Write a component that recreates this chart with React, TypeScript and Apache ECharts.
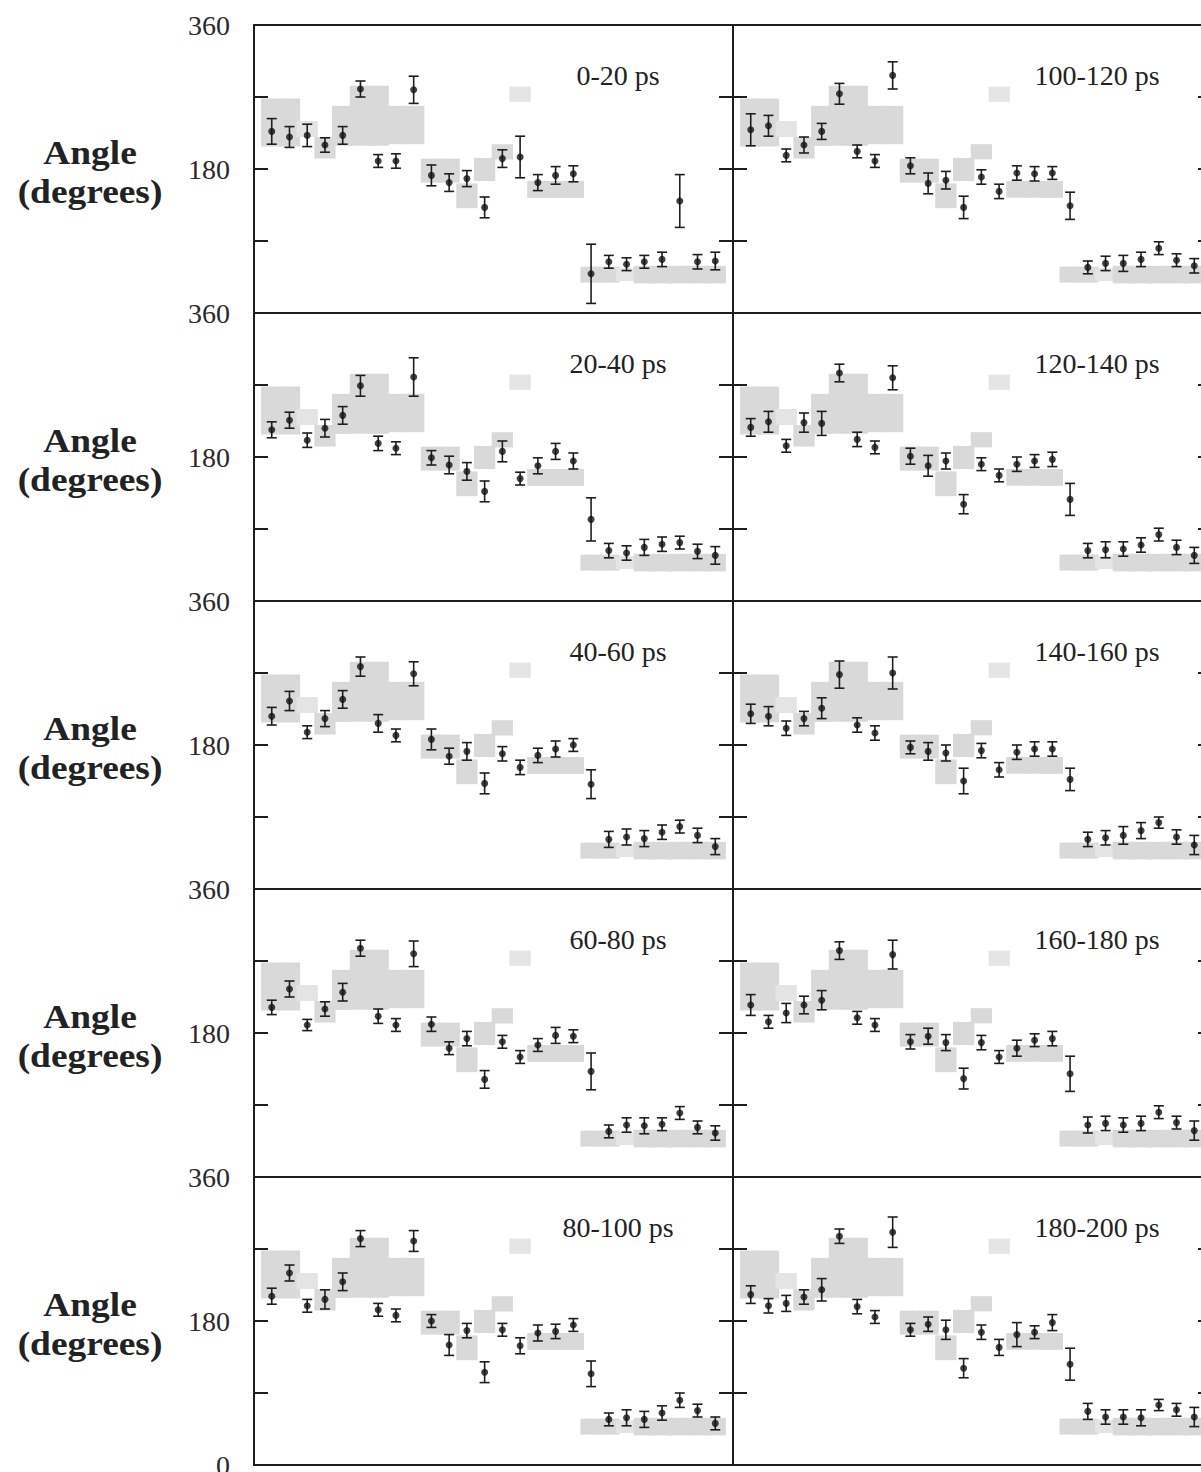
import React, { useEffect, useRef } from 'react';
import * as echarts from 'echarts';

// residue positions along each panel
const residues = [1, 2, 3, 4, 5, 6, 7, 8, 9, 10, 11, 12, 13, 14, 15, 16, 17, 18, 19, 20, 21, 22, 23, 24, 25, 26];

// time windows
const leftLabels = ['0-20 ps', '20-40 ps', '40-60 ps', '60-80 ps', '80-100 ps'];
const rightLabels = ['100-120 ps', '120-140 ps', '140-160 ps', '160-180 ps', '180-200 ps'];

// mean angles (degrees)
const v0_20 = [227, 220, 222, 210, 222, 280, 190, 190, 279, 172, 163, 168, 132, 193, 195, 163, 172, 174, 49, 64, 61, 64, 67, 140, 64, 65];
const e0_20 = [16, 13, 14, 9, 11, 10, 8, 9, 17, 13, 11, 10, 13, 11, 26, 10, 11, 10, 37, 8, 8, 8, 9, 33, 9, 11];
const v20_40 = [214, 226, 201, 216, 232, 269, 197, 191, 280, 179, 170, 162, 137, 187, 153, 169, 187, 175, 102, 63, 60, 67, 71, 73, 62, 57];
const e20_40 = [10, 10, 9, 11, 11, 13, 9, 8, 24, 9, 11, 11, 13, 13, 8, 10, 10, 10, 27, 9, 9, 10, 9, 8, 9, 11];
const v40_60 = [216, 235, 196, 213, 237, 278, 207, 192, 269, 187, 166, 172, 132, 169, 152, 167, 175, 180, 131, 62, 65, 63, 71, 78, 67, 53];
const e40_60 = [11, 12, 8, 10, 11, 12, 11, 8, 15, 13, 10, 11, 13, 9, 9, 9, 10, 8, 18, 10, 10, 10, 9, 8, 9, 10];
const v60_80 = [212, 235, 190, 210, 231, 286, 201, 190, 279, 191, 161, 173, 122, 169, 150, 165, 177, 176, 132, 57, 65, 64, 66, 80, 62, 55];
const e60_80 = [9, 10, 7, 9, 11, 10, 9, 8, 16, 9, 8, 9, 11, 8, 8, 8, 10, 8, 23, 8, 9, 10, 8, 8, 8, 9];
const v80_100 = [211, 240, 199, 207, 229, 283, 194, 187, 280, 180, 150, 168, 116, 169, 149, 165, 167, 175, 114, 57, 59, 57, 65, 81, 68, 52];
const e80_100 = [10, 10, 8, 12, 11, 10, 8, 8, 13, 8, 13, 9, 13, 8, 10, 10, 9, 8, 16, 8, 10, 10, 9, 9, 8, 8];
const v100_120 = [229, 234, 197, 210, 227, 274, 202, 190, 297, 184, 162, 166, 132, 170, 152, 175, 174, 175, 134, 57, 62, 62, 67, 81, 66, 59];
const e100_120 = [20, 13, 8, 10, 10, 13, 8, 8, 17, 10, 13, 11, 14, 9, 9, 9, 9, 8, 17, 8, 9, 10, 9, 8, 8, 9];
const v120_140 = [217, 224, 194, 223, 222, 285, 202, 192, 279, 181, 169, 175, 121, 171, 157, 171, 175, 177, 127, 63, 64, 65, 70, 83, 67, 57];
const e120_140 = [11, 13, 8, 12, 15, 11, 9, 8, 15, 10, 13, 10, 12, 8, 8, 9, 8, 9, 20, 9, 10, 9, 9, 8, 9, 10];
const v140_160 = [219, 216, 201, 213, 226, 268, 205, 195, 270, 177, 172, 170, 135, 173, 149, 171, 175, 175, 137, 62, 64, 67, 73, 83, 65, 55];
const e140_160 = [12, 12, 9, 9, 13, 17, 9, 9, 20, 8, 11, 10, 16, 9, 9, 9, 9, 9, 14, 9, 9, 11, 10, 7, 9, 12];
const v160_180 = [215, 194, 205, 215, 221, 283, 199, 190, 278, 169, 176, 168, 123, 168, 150, 161, 171, 173, 129, 65, 67, 65, 67, 81, 68, 58];
const e160_180 = [13, 8, 12, 11, 12, 11, 8, 8, 18, 9, 10, 10, 13, 9, 8, 10, 8, 9, 22, 10, 9, 9, 9, 8, 8, 12];
const v180_200 = [213, 199, 202, 210, 219, 286, 198, 185, 291, 169, 176, 169, 121, 166, 147, 163, 166, 178, 126, 67, 60, 60, 59, 75, 69, 60];
const e180_200 = [11, 9, 10, 9, 14, 9, 9, 8, 19, 8, 9, 12, 12, 9, 10, 15, 8, 10, 20, 10, 9, 9, 10, 7, 8, 12];

// reference ranges (gray boxes), same in every panel
const boxLow = [208, 208, 220, 193, 209, 209, 209, 211, 211, 163, 163, 131, 165, 192, 264, 144, 144, 144, 38, 38, 40, 37, 37, 37, 37, 37];
const boxHigh = [268, 268, 240, 220, 259, 284, 284, 259, 259, 193, 193, 162, 194, 211, 283, 165, 165, 165, 58, 58, 56, 59, 59, 59, 59, 59];
const boxLight = [0, 0, 1, 0, 0, 0, 0, 0, 0, 0, 0, 0, 0, 0, 1, 0, 0, 0, 0, 0, 1, 0, 0, 0, 0, 0];

const yTicks = [0, 90, 180, 270, 360];
const yLabelled = [360, 180];

const leftValues = [v0_20, v20_40, v40_60, v60_80, v80_100];
const leftErrors = [e0_20, e20_40, e40_60, e60_80, e80_100];
const rightValues = [v100_120, v120_140, v140_160, v160_180, v180_200];
const rightErrors = [e100_120, e120_140, e140_160, e160_180, e180_200];

const FONT = '"Liberation Serif", "Times New Roman", serif';
const INK = '#1e1e1e';

export default function App() {
  const ref = useRef<HTMLDivElement>(null);

  useEffect(() => {
    if (!ref.current) return;
    const chart = echarts.init(ref.current, undefined, { renderer: 'svg' });

    const grids: any[] = [];
    const xAxes: any[] = [];
    const yAxes: any[] = [];
    const series: any[] = [];
    const graphics: any[] = [];

    const PANEL_W = 479;
    const PANEL_H = 288;
    const TOP0 = 25;
    const LEFTS = [254, 733];

    for (let r = 0; r < 5; r++) {
      for (let c = 0; c < 2; c++) {
        const gi = r * 2 + c;
        const top = TOP0 + r * PANEL_H;
        const left = LEFTS[c];
        grids.push({
          left, top, width: PANEL_W, height: PANEL_H,
          show: true, borderColor: INK, borderWidth: 2, backgroundColor: 'transparent',
          containLabel: false, outerBoundsMode: 'none',
        });
        xAxes.push({
          type: 'value', gridIndex: gi, min: 0, max: 27,
          axisLine: { show: false }, axisTick: { show: false }, axisLabel: { show: false }, splitLine: { show: false },
        });
        const isLast = r === 4;
        yAxes.push({
          type: 'value', gridIndex: gi, min: 0, max: 360, interval: 90, position: 'left',
          axisLine: { show: false },
          axisTick: { show: true, inside: true, length: 14, lineStyle: { color: INK, width: 2 } },
          splitLine: { show: false },
          axisLabel: {
            show: c === 0, margin: 24, fontFamily: FONT, fontSize: 28, color: '#2a2a2a',
            formatter: (v: number) => (yLabelled.includes(v) ? String(v) : (isLast && v === yTicks[0] ? '0' : '')),
          },
        });
        yAxes.push({
          type: 'value', gridIndex: gi, min: 0, max: 360, interval: 90, position: 'right',
          axisLine: { show: false },
          axisTick: { show: true, inside: true, length: 14, lineStyle: { color: INK, width: 2 } },
          splitLine: { show: false }, axisLabel: { show: false },
        });
        const yi = gi * 2;
        const vals = c === 0 ? leftValues[r] : rightValues[r];
        const errs = c === 0 ? leftErrors[r] : rightErrors[r];

        series.push({
          type: 'custom', xAxisIndex: gi, yAxisIndex: yi, clip: true, z: 1, silent: true,
          data: residues.map((x, i) => [x, boxLow[i], boxHigh[i], boxLight[i]]),
          renderItem: (params: any, api: any) => {
            const x = api.value(0);
            const p1 = api.coord([x - 0.6, api.value(2)]);
            const p2 = api.coord([x + 0.6, api.value(1)]);
            return {
              type: 'rect',
              shape: { x: p1[0], y: p1[1], width: p2[0] - p1[0], height: p2[1] - p1[1] },
              style: { fill: api.value(3) ? '#e4e4e4' : '#d9d9d9' },
            };
          },
        });
        series.push({
          type: 'custom', xAxisIndex: gi, yAxisIndex: yi, clip: false, z: 3, silent: true,
          data: residues.map((x, i) => [x, vals[i], errs[i]]),
          renderItem: (params: any, api: any) => {
            const x = api.value(0), v = api.value(1), e = api.value(2);
            const t = api.coord([x, v + e]);
            const b = api.coord([x, v - e]);
            const hw = 5;
            const st = { stroke: INK, lineWidth: 1.6 };
            return {
              type: 'group',
              children: [
                { type: 'line', shape: { x1: t[0], y1: t[1], x2: b[0], y2: b[1] }, style: st },
                { type: 'line', shape: { x1: t[0] - hw, y1: t[1], x2: t[0] + hw, y2: t[1] }, style: st },
                { type: 'line', shape: { x1: b[0] - hw, y1: b[1], x2: b[0] + hw, y2: b[1] }, style: st },
              ],
            };
          },
        });
        series.push({
          type: 'scatter', xAxisIndex: gi, yAxisIndex: yi, z: 4, silent: true,
          symbol: 'circle', symbolSize: 7,
          itemStyle: { color: '#111' },
          data: residues.map((x, i) => [x, vals[i]]),
        });

        graphics.push({
          type: 'text', x: left + 364, y: top + 50,
          style: {
            text: c === 0 ? leftLabels[r] : rightLabels[r],
            fontFamily: FONT, fontSize: 28, fill: '#222', textAlign: 'center', textVerticalAlign: 'middle',
          },
        });
      }
      const top = TOP0 + r * PANEL_H;
      graphics.push({
        type: 'text', x: 90, y: top + 128, scaleX: 1.1,
        style: { text: 'Angle', fontFamily: FONT, fontSize: 34, fontWeight: 'bold', fill: '#222', textAlign: 'center', textVerticalAlign: 'middle' },
      });
      graphics.push({
        type: 'text', x: 90, y: top + 167, scaleX: 1.1,
        style: { text: '(degrees)', fontFamily: FONT, fontSize: 34, fontWeight: 'bold', fill: '#222', textAlign: 'center', textVerticalAlign: 'middle' },
      });
    }

    chart.setOption({
      animation: false,
      backgroundColor: '#ffffff',
      textStyle: { fontFamily: FONT },
      grid: grids,
      xAxis: xAxes,
      yAxis: yAxes,
      series,
      graphic: graphics,
    });

    return () => chart.dispose();
  }, []);

  return (
    <div
      ref={ref}
      style={{ position: 'absolute', left: 0, top: 0, width: 1201, height: 1472, background: '#fff' }}
    />
  );
}
